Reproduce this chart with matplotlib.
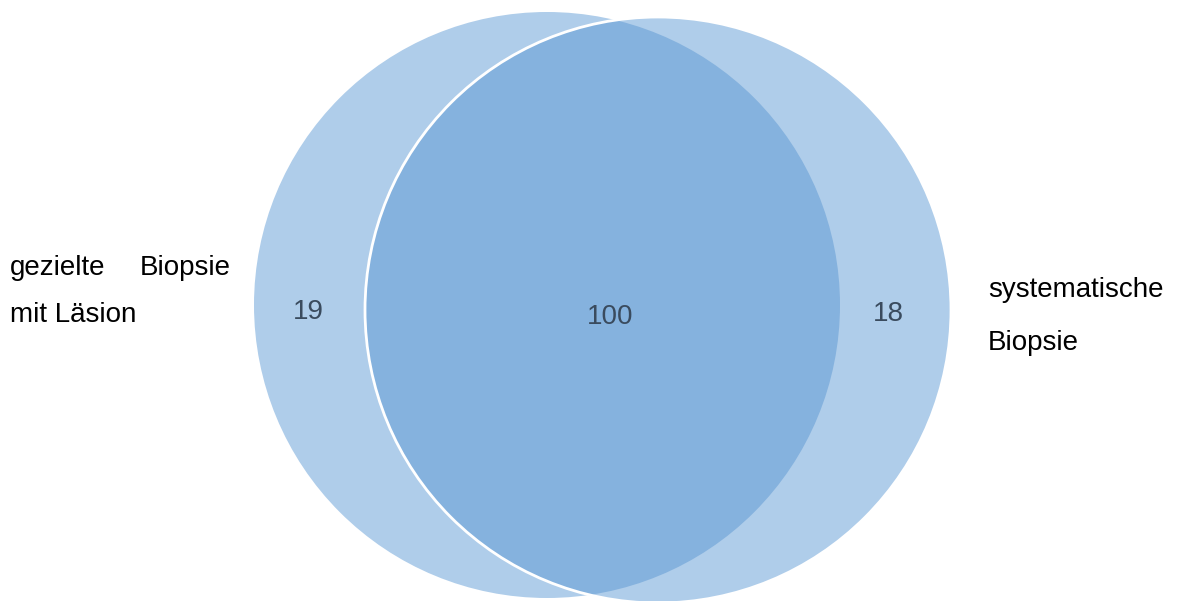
import matplotlib.pyplot as plt
from matplotlib.patches import Circle

# Venn-Daten
set_labels = ["gezielte Biopsie mit Läsion", "systematische Biopsie"]
only_left = 19
both = 100
only_right = 18

light = "#AFCDEA"
dark = "#85B2DE"
num_color = "#3A4B5E"

plt.rcParams['font.family'] = ['Liberation Sans', 'DejaVu Sans']

fig = plt.figure(figsize=(11.79, 6.01), dpi=100)
ax = fig.add_axes([0, 0, 1, 1])
ax.set_xlim(0, 1179)
ax.set_ylim(601, 0)
ax.set_aspect('equal')
ax.axis('off')

r = 293
left = Circle((547, 305), r, facecolor=light, edgecolor='none')
right = Circle((658, 310), r, facecolor=light, edgecolor='none')
ax.add_patch(left)
ax.add_patch(right)

# Schnittmenge
inter = Circle((658, 310), r, facecolor=dark, edgecolor='none')
ax.add_patch(inter)
inter.set_clip_path(left)

# weisser Rand des rechten Kreises
ax.add_patch(Circle((658, 310), r, facecolor='none', edgecolor='white', lw=2))

fs = 20
ax.text(308, 312, str(only_left), fontsize=fs, color=num_color, ha='center', va='center')
ax.text(610, 317, str(both), fontsize=fs, color=num_color, ha='center', va='center')
ax.text(888, 314, str(only_right), fontsize=fs, color=num_color, ha='center', va='center')

# Beschriftungen (Blocksatz wie im Original)
w = set_labels[0].split()
ax.text(10, 275, w[0], fontsize=fs, ha='left', va='baseline')
ax.text(231, 275, w[1], fontsize=fs, ha='right', va='baseline')
ax.text(10, 322, " ".join(w[2:]), fontsize=fs, ha='left', va='baseline')

w2 = set_labels[1].split()
ax.text(988, 297, w2[0], fontsize=fs, ha='left', va='baseline')
ax.text(988, 350, w2[1], fontsize=fs, ha='left', va='baseline')

fig.savefig("out.png", dpi=100)
